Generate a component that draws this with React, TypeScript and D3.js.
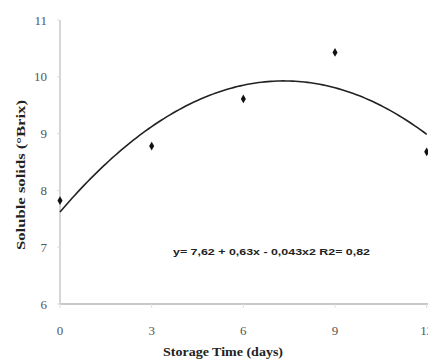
import React, { useEffect, useRef } from 'react';
import * as d3 from 'd3';

// observed values
const days = [0, 3, 6, 9, 12];
const brix = [7.82, 8.78, 9.61, 10.43, 8.68];

// quadratic fit y = a + b x + c x^2
const fitCoef = [7.62, 0.63, -0.043];
const fitLabel = 'y= 7,62 + 0,63x - 0,043x2 R2= 0,82';

const xTicks = [0, 3, 6, 9, 12];
const yTicks = [6, 7, 8, 9, 10, 11];

const W = 428;
const H = 360;

const App = () => {
  const ref = useRef<SVGSVGElement>(null);

  useEffect(() => {
    const svg = d3.select(ref.current);
    svg.selectAll('*').remove();

    const x = d3.scaleLinear().domain([0, 12]).range([60, 426.7]);
    const y = d3.scaleLinear().domain([6, 11]).range([304, 20]);

    // axes lines
    svg.append('line')
      .attr('x1', 60).attr('x2', 60)
      .attr('y1', y(11)).attr('y2', y(6))
      .attr('stroke', '#c8c8c8').attr('stroke-width', 1.5);
    svg.append('line')
      .attr('x1', 60).attr('x2', W)
      .attr('y1', y(6)).attr('y2', y(6))
      .attr('stroke', '#c8c8c8').attr('stroke-width', 2);

    // tick marks
    svg.selectAll('.yt').data(yTicks).enter().append('line')
      .attr('x1', 57).attr('x2', 60)
      .attr('y1', d => y(d)).attr('y2', d => y(d))
      .attr('stroke', '#ddd');
    svg.selectAll('.xt').data(xTicks).enter().append('line')
      .attr('x1', d => x(d)).attr('x2', d => x(d))
      .attr('y1', 304).attr('y2', 308)
      .attr('stroke', '#ddd');

    // tick labels
    svg.selectAll('.yl').data(yTicks).enter().append('text')
      .attr('x', 47).attr('y', d => y(d) + 4.5)
      .attr('text-anchor', 'end')
      .attr('font-family', 'Liberation Serif')
      .attr('font-size', 13)
      .attr('fill', '#555')
      .text(d => d);
    svg.selectAll('.xl').data(xTicks).enter().append('text')
      .attr('x', d => x(d)).attr('y', 335)
      .attr('text-anchor', 'middle')
      .attr('font-family', 'Liberation Serif')
      .attr('font-size', 13)
      .attr('fill', '#555')
      .text(d => d);

    // axis titles
    svg.append('text')
      .attr('x', 163).attr('y', 356)
      .attr('font-family', 'Liberation Serif')
      .attr('font-weight', 'bold')
      .attr('font-size', 12)
      .attr('textLength', 120)
      .attr('lengthAdjust', 'spacingAndGlyphs')
      .attr('fill', '#222')
      .text('Storage Time (days)');
    svg.append('text')
      .attr('transform', 'translate(25,250) rotate(-90)')
      .attr('font-family', 'Liberation Serif')
      .attr('font-weight', 'bold')
      .attr('font-size', 12.5)
      .attr('textLength', 150)
      .attr('lengthAdjust', 'spacingAndGlyphs')
      .attr('fill', '#222')
      .text('Soluble solids (°Brix)');

    // fitted curve
    const fitX = d3.range(0, 12.01, 0.1);
    const line = d3.line<number>()
      .x(d => x(d))
      .y(d => y(fitCoef[0] + fitCoef[1] * d + fitCoef[2] * d * d));
    svg.append('path')
      .attr('d', line(fitX))
      .attr('fill', 'none')
      .attr('stroke', '#222')
      .attr('stroke-width', 1.6);

    // points
    svg.selectAll('.pt').data(days).enter().append('path')
      .attr('d', d3.symbol(d3.symbolDiamond, 22)())
      .attr('transform', (d, i) => `translate(${x(d)},${y(brix[i])})`)
      .attr('fill', '#111');

    // equation
    svg.append('text')
      .attr('x', 173).attr('y', 255)
      .attr('font-family', 'Liberation Sans')
      .attr('font-weight', 'bold')
      .attr('font-size', 9.5)
      .attr('textLength', 197)
      .attr('lengthAdjust', 'spacingAndGlyphs')
      .attr('fill', '#222')
      .text(fitLabel);
  }, []);

  return (
    <svg ref={ref} width={W} height={H}
      style={{ position: 'absolute', left: 0, top: 0, background: '#fff' }} />
  );
};

export default App;
